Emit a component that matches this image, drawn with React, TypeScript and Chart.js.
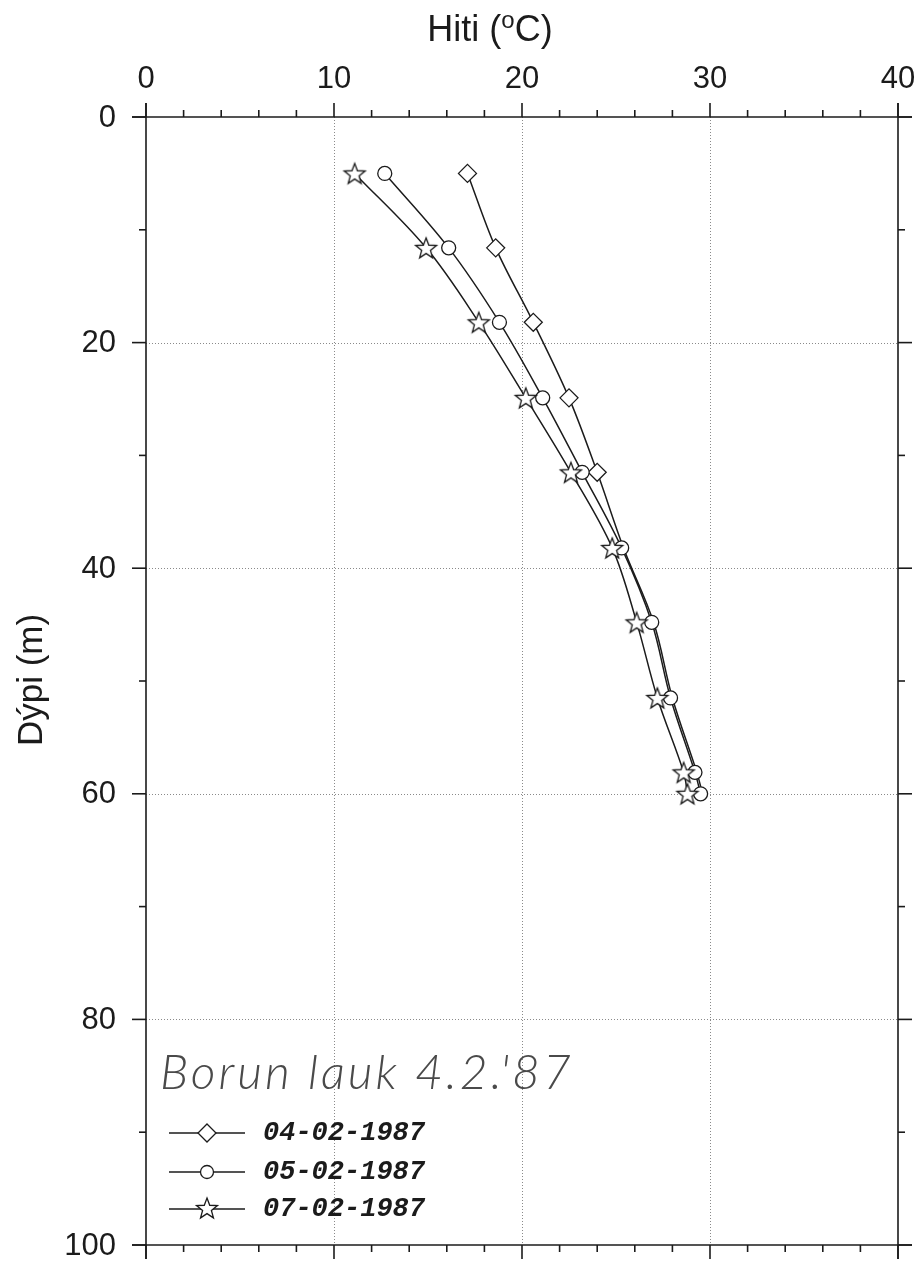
import React, { useEffect, useRef } from "react";
import { Chart, registerables } from "chart.js";

Chart.register(...registerables);

// ---- data ----
const depths = [5, 11.6, 18.2, 24.9, 31.5, 38.2, 44.8, 51.5, 58.1, 60];
const temp0402 = [17.1, 18.6, 20.6, 22.5, 24.0, 25.4, 27.0, 28.0, 29.3, 29.6];
const temp0502 = [12.7, 16.1, 18.8, 21.1, 23.2, 25.3, 26.9, 27.9, 29.2, 29.5];
const temp0702 = [11.1, 14.9, 17.7, 20.2, 22.6, 24.8, 26.1, 27.2, 28.6, 28.8];
const visibleMarkers0402 = 5;
const seriesLabels = ["04-02-1987", "05-02-1987", "07-02-1987"];
const xTickLabels = [0, 10, 20, 30, 40];
const yTickLabels = [0, 20, 40, 60, 80, 100];
const xMinorStep = 2;
const yMinorStep = 10;
const xTitle = "Hiti (";
const xTitleSup = "o";
const xTitleEnd = "C)";
const yTitle = "Dýpi (m)";
const note = "Borun lauk 4.2.'87";

const INK = "#1b1b1b";

function makeStar(r: number): HTMLCanvasElement {
  const size = Math.ceil(r * 2 + 4);
  const c = document.createElement("canvas");
  c.width = size;
  c.height = size;
  const g = c.getContext("2d")!;
  const cx = size / 2, cy = size / 2 + 1;
  const inner = r * 0.42;
  g.beginPath();
  for (let i = 0; i < 10; i++) {
    const rad = i % 2 === 0 ? r : inner;
    const a = -Math.PI / 2 + (i * Math.PI) / 5;
    const px = cx + rad * Math.cos(a);
    const py = cy + rad * Math.sin(a);
    if (i === 0) g.moveTo(px, py);
    else g.lineTo(px, py);
  }
  g.closePath();
  g.fillStyle = "#ffffff";
  g.fill();
  g.lineWidth = 1.3;
  g.strokeStyle = INK;
  g.stroke();
  return c;
}

export default function App() {
  const ref = useRef<HTMLCanvasElement | null>(null);

  useEffect(() => {
    document.body.style.margin = "0";
    const canvas = ref.current!;
    const star = makeStar(11);

    const decor = {
      id: "decor",
      beforeDatasetsDraw(chart: any) {
        const ctx = chart.ctx as CanvasRenderingContext2D;
        const xs = chart.scales.x;
        const ys = chart.scales.y;
        const left = xs.getPixelForValue(0), right = xs.getPixelForValue(40);
        const top = ys.getPixelForValue(0), bottom = ys.getPixelForValue(100);
        ctx.save();
        ctx.strokeStyle = "#8a8a8a";
        ctx.lineWidth = 1;
        ctx.setLineDash([1, 2]);
        for (const v of xTickLabels) {
          if (v === 0 || v === 40) continue;
          const px = Math.round(xs.getPixelForValue(v)) + 0.5;
          ctx.beginPath();
          ctx.moveTo(px, top);
          ctx.lineTo(px, bottom);
          ctx.stroke();
        }
        for (const v of yTickLabels) {
          if (v === 0 || v === 100) continue;
          const py = Math.round(ys.getPixelForValue(v)) + 0.5;
          ctx.beginPath();
          ctx.moveTo(left, py);
          ctx.lineTo(right, py);
          ctx.stroke();
        }
        ctx.restore();
      },
      afterDatasetsDraw(chart: any) {
        const ctx = chart.ctx as CanvasRenderingContext2D;
        const xs = chart.scales.x;
        const ys = chart.scales.y;
        const left = xs.getPixelForValue(0), right = xs.getPixelForValue(40);
        const top = ys.getPixelForValue(0), bottom = ys.getPixelForValue(100);
        const major = 14, minor = 7, ext = 14;
        ctx.save();
        ctx.strokeStyle = INK;
        ctx.lineWidth = 1.6;
        ctx.setLineDash([]);
        const line = (x1: number, y1: number, x2: number, y2: number) => {
          ctx.beginPath();
          ctx.moveTo(x1, y1);
          ctx.lineTo(x2, y2);
          ctx.stroke();
        };
        // frame lines, extended beyond corners
        line(left - ext, top, right + ext, top);
        line(left - ext, bottom, right + ext, bottom);
        line(left, top - ext, left, bottom + ext);
        line(right, top - ext, right, bottom + ext);
        // x ticks top (up) & bottom (down)
        for (let v = 0; v <= 40; v += xMinorStep) {
          const px = xs.getPixelForValue(v);
          const len = v % 10 === 0 ? major : minor;
          line(px, top, px, top - len);
          line(px, bottom, px, bottom + len);
        }
        // y ticks left (out) & right (out)
        for (let v = 0; v <= 100; v += yMinorStep) {
          const py = ys.getPixelForValue(v);
          const len = v % 20 === 0 ? major : minor;
          line(left, py, left - len, py);
          line(right, py, right + len, py);
        }
        // tick labels
        ctx.fillStyle = INK;
        ctx.font = '31px "Liberation Sans", Arial, sans-serif';
        ctx.textAlign = "center";
        ctx.textBaseline = "alphabetic";
        for (const v of xTickLabels) {
          ctx.fillText(String(v), xs.getPixelForValue(v), 88);
        }
        ctx.textAlign = "right";
        ctx.textBaseline = "middle";
        for (const v of yTickLabels) {
          ctx.fillText(String(v), left - 30, ys.getPixelForValue(v) + 1);
        }
        // x title
        ctx.textBaseline = "alphabetic";
        ctx.textAlign = "left";
        const mainFont = '36px "Liberation Sans", Arial, sans-serif';
        const supFont = '24px "Liberation Sans", Arial, sans-serif';
        ctx.font = mainFont;
        const w1 = ctx.measureText(xTitle).width;
        const w3 = ctx.measureText(xTitleEnd).width;
        ctx.font = supFont;
        const w2 = ctx.measureText(xTitleSup).width;
        const tx = 490 - (w1 + w2 + w3) / 2;
        ctx.font = mainFont;
        ctx.fillText(xTitle, tx, 41);
        ctx.font = supFont;
        ctx.fillText(xTitleSup, tx + w1, 28);
        ctx.font = mainFont;
        ctx.fillText(xTitleEnd, tx + w1 + w2, 41);
        // y title
        ctx.save();
        ctx.translate(42, 680);
        ctx.rotate(-Math.PI / 2);
        ctx.textAlign = "center";
        ctx.textBaseline = "alphabetic";
        ctx.font = '35px "Liberation Sans", Arial, sans-serif';
        ctx.fillText(yTitle, 0, 0);
        ctx.restore();
        // handwritten note
        ctx.save();
        ctx.font = 'italic 300 48px Lato, "Open Sans", sans-serif';
        (ctx as any).letterSpacing = "3px";
        ctx.fillStyle = "#4a4a4a";
        ctx.textAlign = "left";
        ctx.fillText(note, 160, 1089);
        ctx.restore();
        // legend
        const rows = [1133, 1172, 1209];
        const styles = ["diamond", "circle", "star"];
        ctx.font = 'italic bold 27px "Liberation Mono", "DejaVu Sans Mono", monospace';
        ctx.fillStyle = INK;
        rows.forEach((ry, i) => {
          ctx.strokeStyle = INK;
          ctx.lineWidth = 1.5;
          line(169, ry, 245, ry);
          const mx = 207;
          ctx.fillStyle = "#fff";
          ctx.lineWidth = 1.3;
          if (styles[i] === "diamond") {
            ctx.beginPath();
            ctx.moveTo(mx, ry - 9);
            ctx.lineTo(mx + 9, ry);
            ctx.lineTo(mx, ry + 9);
            ctx.lineTo(mx - 9, ry);
            ctx.closePath();
            ctx.fill();
            ctx.stroke();
          } else if (styles[i] === "circle") {
            ctx.beginPath();
            ctx.arc(mx, ry, 6.5, 0, Math.PI * 2);
            ctx.fill();
            ctx.stroke();
          } else {
            ctx.drawImage(star, mx - star.width / 2, ry - star.height / 2 - 1);
          }
          ctx.fillStyle = INK;
          ctx.textAlign = "left";
          ctx.textBaseline = "middle";
          ctx.fillText(seriesLabels[i], 263, ry);
        });
        ctx.restore();
      },
    };

    const pts = (t: number[]) => t.map((x, i) => ({ x, y: depths[i] }));

    const chart = new Chart(canvas, {
      type: "scatter",
      data: {
        datasets: [
          {
            label: seriesLabels[2],
            data: pts(temp0702),
            showLine: true,
            tension: 0.35,
            borderColor: INK,
            borderWidth: 1.5,
            pointStyle: star as any,
            pointRadius: 11,
            order: 1,
          },
          {
            label: seriesLabels[1],
            data: pts(temp0502),
            showLine: true,
            tension: 0.35,
            borderColor: INK,
            borderWidth: 1.5,
            pointStyle: "circle",
            pointRadius: 7,
            pointBackgroundColor: "#fff",
            pointBorderColor: INK,
            pointBorderWidth: 1.3,
            order: 2,
          },
          {
            label: seriesLabels[0],
            data: pts(temp0402),
            showLine: true,
            tension: 0.35,
            borderColor: INK,
            borderWidth: 1.5,
            pointStyle: "rectRot",
            pointRadius: (c: any) => (c.dataIndex < visibleMarkers0402 ? 9 : 0),
            pointBackgroundColor: "#fff",
            pointBorderColor: INK,
            pointBorderWidth: 1.3,
            order: 3,
          },
        ],
      },
      options: {
        animation: false,
        responsive: false,
        events: [],
        layout: { padding: { left: 146, top: 117, right: 23, bottom: 19 } },
        plugins: { legend: { display: false }, tooltip: { enabled: false } },
        scales: {
          x: { type: "linear", min: 0, max: 40, display: false },
          y: { type: "linear", min: 0, max: 100, reverse: true, display: false },
        },
      },
      plugins: [decor],
    });
    return () => chart.destroy();
  }, []);

  return (
    <canvas
      ref={ref}
      width={921}
      height={1264}
      style={{ position: "absolute", left: 0, top: 0, width: 921, height: 1264, background: "#fff" }}
    />
  );
}
